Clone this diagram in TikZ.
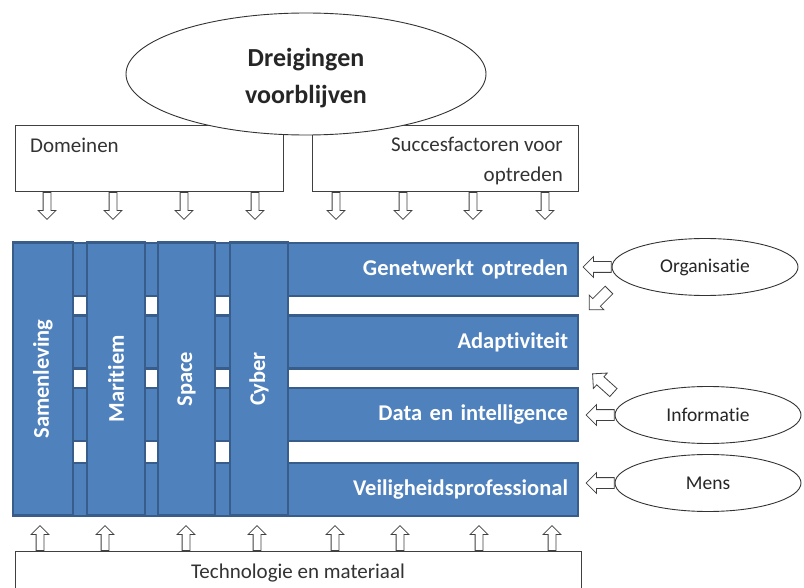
\documentclass[tikz,border=0pt]{standalone}
\usepackage{fontspec}
\setmainfont{Carlito}[Ligatures=NoCommon]
\usetikzlibrary{shapes.geometric,shapes.arrows}

\definecolor{barfill}{RGB}{79,129,189}
\definecolor{baredge}{RGB}{56,93,138}

\tikzset{
  framebox/.style={draw=black!75, line width=0.9pt, fill=white, inner sep=0pt},
  plaintext/.style={inner sep=0pt, text=black!80, font=\fontsize{21}{30}\selectfont},
  bar/.style={draw=baredge, fill=barfill, line width=2.4pt, text=white,
    font=\fontsize{22.5}{27}\selectfont\bfseries},
  rowbar/.style={bar, minimum width=565pt, minimum height=53pt,
    text width=545pt, align=right, inner xsep=10pt},
  colbar/.style={bar, rotate=90, minimum width=273pt, inner sep=0pt},
  factor/.style={ellipse, draw=black!80, line width=0.9pt, fill=white,
    minimum width=186pt, minimum height=57pt, text=black!85,
    font=\fontsize{19.5}{23}\selectfont},
  blockarrow/.style={single arrow, draw=black!75, fill=white, line width=0.8pt,
    inner xsep=0pt, inner ysep=3.5pt, single arrow head extend=5pt, minimum height=27pt},
  sidearrow/.style={blockarrow, inner ysep=5pt, minimum height=28pt}
}

\begin{document}
\begin{tikzpicture}[x=1pt, y=-1pt]
  \useasboundingbox (0,0) rectangle (804,588);
  \clip (0,0) rectangle (804,588);
  % kaders boven
  \node[framebox, anchor=north west, minimum width=268pt, minimum height=66pt] (dom) at (15,125) {};
  \node[framebox, anchor=north west, minimum width=266pt, minimum height=66pt] (suc) at (312,125) {};
  \node[plaintext, anchor=base west] (domtxt) at (30,153) {Domeinen};
  \node[plaintext, anchor=base east, align=right] (suctxt) at (563,182) {Succesfactoren voor\\optreden};
  \node[ellipse, draw=black!80, line width=0.9pt, fill=white, minimum width=360pt,
    minimum height=122pt] (threat) at (306,74) {};
  \node[align=center, text=black!85, font=\fontsize{26}{37}\selectfont\bfseries]
    (threattxt) at ([yshift=-4pt]threat.center) {Dreigingen\\voorblijven};
  \foreach \x in {47,113,184,255,336,403,473,545}
    \node[blockarrow, rotate=-90, anchor=tail] (dn-\x) at (\x,192) {};
  % balken
  \foreach \name/\y/\txt in {net/269.5/Genetwerkt optreden, adapt/342/Adaptiviteit,
      data/414.5/Data en intelligence, prof/489.5/Veiligheidsprofessional}
    \node[rowbar] (\name) at (295.5,\y) {\txt};
  \foreach \name/\x/\w/\txt in {soc/43/60/Samenleving, mar/116/58/Maritiem,
      spa/186.5/57/Space, cyb/259/58/Cyber}
    \node[colbar, minimum height=\w pt] (\name) at (\x,379) {\txt};
  % factoren rechts
  \node[factor] (org) at (705,267) {Organisatie};
  \node[factor] (inf) at (708,415) {Informatie};
  \node[factor] (mens) at (708,483) {Mens};
  \foreach \src in {org,inf,mens}
    \node[sidearrow, rotate=180, anchor=tail] (in-\src) at (\src.west) {};
  \node[sidearrow, rotate=225] (diagdn) at (601,298) {};
  \node[sidearrow, rotate=138] (diagup) at (605,385) {};
  % kader onder
  \node[framebox, anchor=north west, minimum width=566pt, minimum height=60pt] (tech) at (15,551) {};
  \node[plaintext, anchor=base] (techtxt) at (298,578) {Technologie en materiaal};
  \foreach \x in {40,105,186,257,335,400,479,552}
    \node[blockarrow, rotate=90, anchor=tail, minimum height=25pt] (up-\x) at (\x,551) {};
\end{tikzpicture}
\end{document}
